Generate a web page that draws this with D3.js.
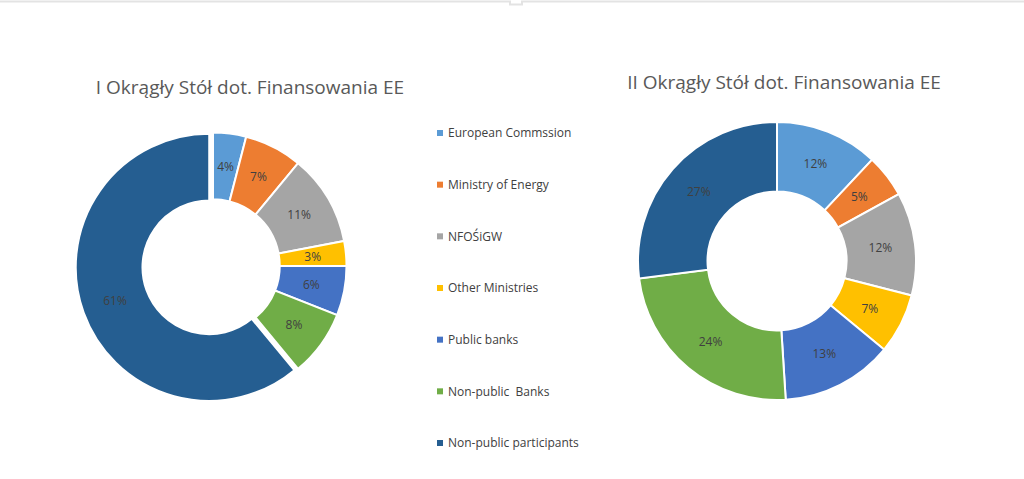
<!DOCTYPE html>
<html>
<head>
<meta charset="utf-8">
<script src="https://cdn.jsdelivr.net/npm/d3@7"></script>
<style>
  body { margin: 0; background: #fff; }
  svg text { font-family: "Open Sans", "Noto Sans", sans-serif; white-space: pre; }
</style>
</head>
<body>
<svg id="canvas"></svg>
<script>
let width = 1024, height = 479

// data
const categories = ["European Commssion", "Ministry of Energy", "NFOŚiGW", "Other Ministries",
                    "Public banks", "Non-public  Banks", "Non-public participants"]
const colors = ["#5B9BD5", "#ED7D31", "#A5A5A5", "#FFC000", "#4472C4", "#70AD47", "#255E91"]
const round1 = [4, 7, 11, 3, 6, 8, 61]
const round2 = [12, 5, 12, 7, 13, 24, 27]
const titles = ["I Okrągły Stół dot. Finansowania EE", "II Okrągły Stół dot. Finansowania EE"]

let svg = d3.select('#canvas').attr("width", width).attr("height", height)

// thin frame line at the top
svg.append("path")
  .attr("d", "M0,1.5 H510 V4.5 H522 V1.5 H1024")
  .style("fill", "none").style("stroke", "#e3e3e3").style("stroke-width", 2)

const color = d3.scaleOrdinal(categories, colors)
const pie = d3.pie().sort(null).value(d => d.value)

let charts = [
  {title: titles[0], values: round1, cx: 213, cy: 266, r: 133.5, tx: 250, ty: 94, explode: 4},
  {title: titles[1], values: round2, cx: 777, cy: 261, r: 139, tx: 784, ty: 89, explode: 0}
]

charts.forEach(c => {
  let g = svg.append("g").attr("transform", `translate(${c.cx},${c.cy})`)
  let arc = d3.arc().innerRadius(c.r * 0.5).outerRadius(c.r)
  let labelArc = d3.arc().innerRadius(c.r * 0.75).outerRadius(c.r * 0.75)
  let arcs = pie(categories.map((name, i) => ({name: name, value: c.values[i]})))
  let biggest = d3.maxIndex(arcs, d => d.data.value)

  let slices = g.selectAll(".slice")
    .data(arcs)
    .enter()
    .append("g")
    .attr("transform", (d, i) => {
      if (!c.explode || i != biggest) return null
      let a = (d.startAngle + d.endAngle) / 2
      return `translate(${Math.sin(a) * c.explode},${-Math.cos(a) * c.explode})`
    })

  slices.append("path")
    .attr("d", arc)
    .style("fill", d => color(d.data.name))
    .style("stroke", "white")
    .style("stroke-width", 2)

  slices.append("text")
    .attr("transform", d => `translate(${labelArc.centroid(d)})`)
    .attr("text-anchor", "middle")
    .attr("dy", "0.35em")
    .style("font-size", "12px")
    .style("fill", "#404040")
    .text(d => d.data.value + "%")

  svg.append("text")
    .attr("x", c.tx)
    .attr("y", c.ty)
    .attr("text-anchor", "middle")
    .style("font-size", "19px")
    .style("fill", "#595959")
    .text(c.title)
})

// legend
let legendY = d3.scalePoint().domain(categories).range([133, 443])

let legend = svg.selectAll(".legend")
  .data(categories)
  .enter()
  .append("g")
  .attr("transform", d => `translate(437,${legendY(d)})`)

legend.append("rect")
  .attr("x", 0).attr("y", -3)
  .attr("width", 6).attr("height", 6)
  .style("fill", d => color(d))

legend.append("text")
  .attr("x", 11)
  .attr("dy", "0.35em")
  .style("font-size", "12px")
  .style("fill", "#404040")
  .text(d => d)
</script>
</body>
</html>
